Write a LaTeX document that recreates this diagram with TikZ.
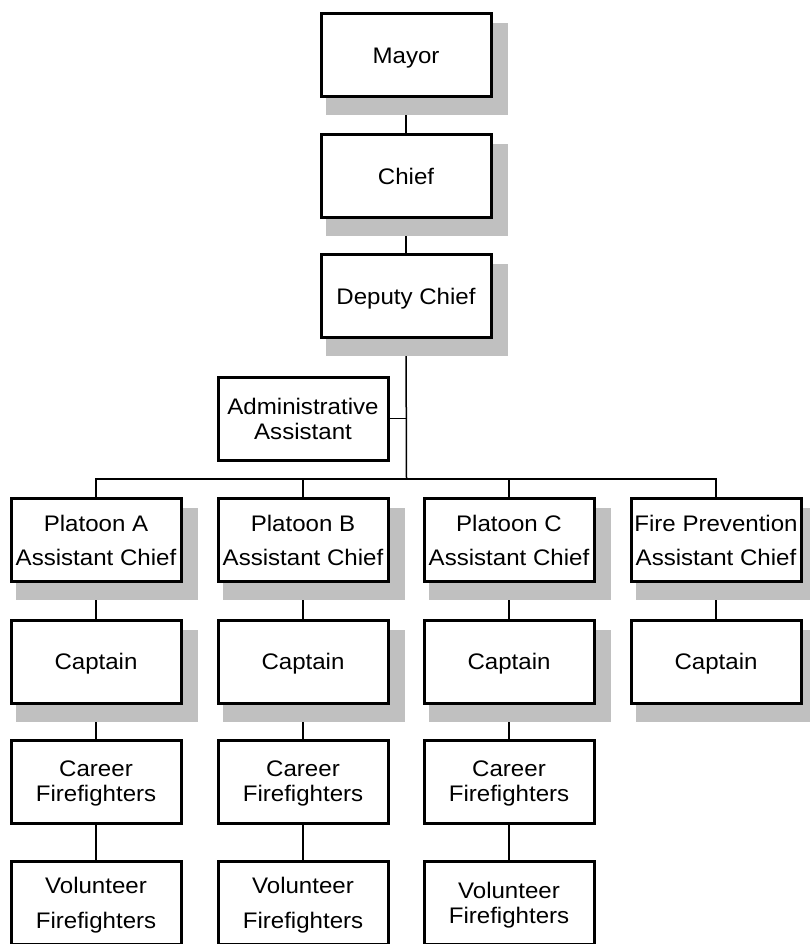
\documentclass[tikz,border=0pt]{standalone}
\usepackage{fontspec}
\setmainfont{Liberation Sans}[FakeStretch=1.07]

% drawing order: connectors, then the grey shadows, then the boxes
\pgfdeclarelayer{wires}
\pgfdeclarelayer{shades}
\pgfsetlayers{wires,shades,main}

\definecolor{shadegray}{HTML}{C0C0C0}

\tikzset{
  box/.style={draw=black, fill=white, line width=3pt,
    minimum width=170pt, minimum height=83pt, inner sep=0pt,
    align=center, text depth=0pt,
    font=\fontsize{22.5}{25}\selectfont},
  wire/.style={line width=1.5pt, draw=black},
}

% grey offset shadow behind a box
\newcommand\boxshadow[1]{%
  \fill[shadegray] ([shift={(6,11)}]#1.north west) rectangle ([shift={(15,17)}]#1.south east);}

\begin{document}
\begin{tikzpicture}[x=1pt, y=-1pt]
  \useasboundingbox (0,0) rectangle (810,944);
  \clip (0,0) rectangle (810,944);

  % top of the chain
  \node[box] (mayor)  at (406,55.5) {Mayor};
  \node[box] (chief)  at (406,176)  {Chief};
  \node[box] (deputy) at (406,296)  {Deputy Chief};
  \node[box] (admin)  at (303,418.5) {Administrative\\Assistant};

  % assistant chiefs
  \node[box] (pa)  at (96,540)  {Platoon A\\[9pt]Assistant Chief};
  \node[box] (pb)  at (303,540) {Platoon B\\[9pt]Assistant Chief};
  \node[box] (pc)  at (509,540) {Platoon C\\[9pt]Assistant Chief};
  \node[box] (pfp) at (716,540) {Fire Prevention\\[9pt]Assistant Chief};

  % captains
  \node[box] (ca)  at (96,661.5)  {Captain};
  \node[box] (cb)  at (303,661.5) {Captain};
  \node[box] (cc)  at (509,661.5) {Captain};
  \node[box] (cfp) at (716,661.5) {Captain};

  % firefighters
  \node[box] (fa) at (96,781.5)  {Career\\Firefighters};
  \node[box] (fb) at (303,781.5) {Career\\Firefighters};
  \node[box] (fc) at (509,781.5) {Career\\Firefighters};

  \node[box] (va) at (96,903)  {Volunteer\\[10pt]Firefighters};
  \node[box] (vb) at (303,903) {Volunteer\\[10pt]Firefighters};
  \node[box] (vc) at (509,903) {Volunteer\\Firefighters};

  \coordinate (bus) at (406.5,479);

  \begin{pgfonlayer}{shades}
    \foreach \n in {mayor,chief,deputy,pa,pb,pc,pfp,ca,cb,cc,cfp}
      {\boxshadow{\n}}
  \end{pgfonlayer}

  \begin{pgfonlayer}{wires}
    \draw[wire] (mayor.south) -- (chief.north);
    \draw[wire] (chief.south) -- (deputy.north);
    \draw[wire] (deputy.south) -- (bus);
    \draw[wire] (admin.east) -- (admin.east -| bus);
    \draw[wire] (pa.north) -- (pa.north |- bus) -- (pfp.north |- bus) -- (pfp.north);
    \draw[wire] (pb.north) -- (pb.north |- bus);
    \draw[wire] (pc.north) -- (pc.north |- bus);
    \foreach \u/\l in {pa/ca,pb/cb,pc/cc,pfp/cfp,ca/fa,cb/fb,cc/fc,fa/va,fb/vb,fc/vc}
      {\draw[wire] (\u.south) -- (\l.north);}
  \end{pgfonlayer}
\end{tikzpicture}
\end{document}
